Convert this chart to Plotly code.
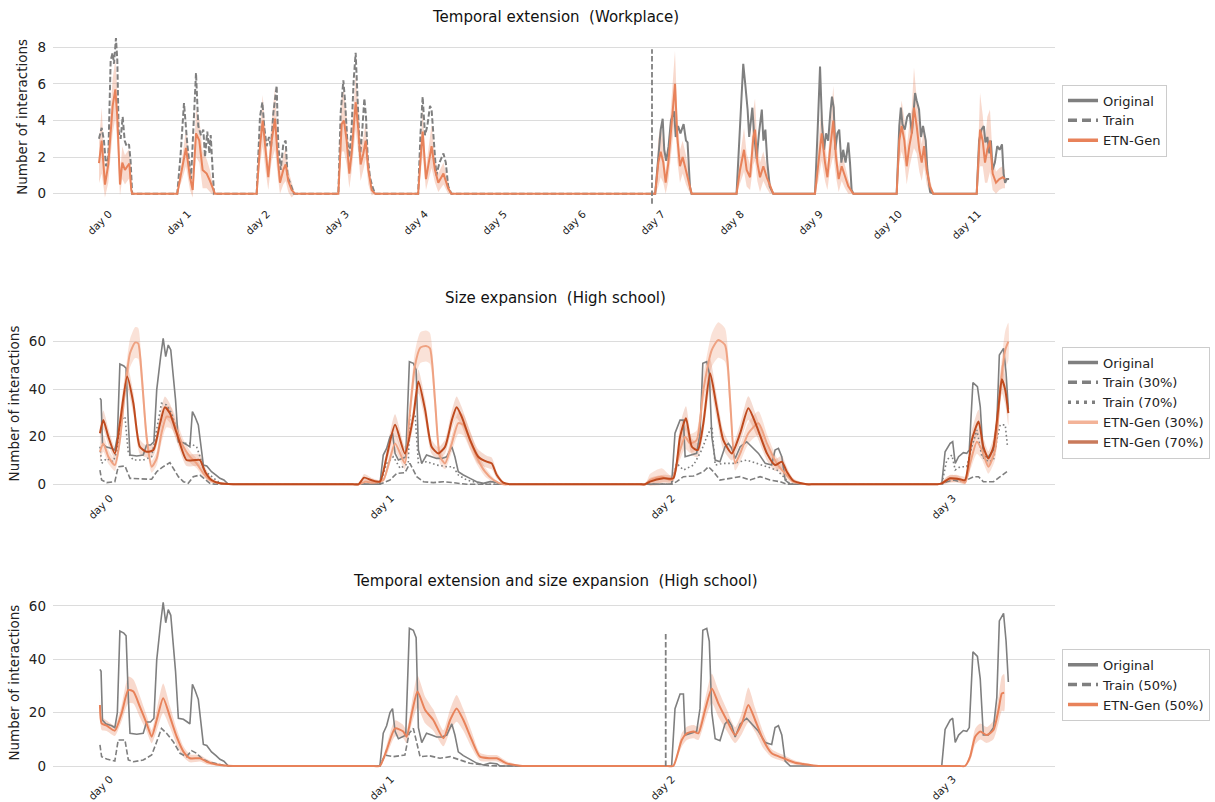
import numpy as np
import plotly.graph_objects as go

# ---------------- Workplace: temporal extension ----------------
wp_tick_days = list(range(12))
wp_tick_labels = [f"day {d}" for d in wp_tick_days]
wp_split_day = 7.0
wp_split_span = [-0.55, 7.9]

wp_train_t = [0.0, 0.034, 0.063, 0.089, 0.118, 0.148, 0.173, 0.19, 0.215, 0.232, 0.249, 0.274, 0.3, 0.325, 0.35, 0.38, 0.4, 0.42,
              0.991, 1.034, 1.076, 1.118, 1.165, 1.194, 1.228, 1.257, 1.291, 1.321, 1.342, 1.371, 1.397, 1.414, 1.439, 1.456,
              1.996, 2.038, 2.068, 2.093, 2.122, 2.152, 2.177, 2.207, 2.249, 2.270, 2.300, 2.333, 2.363, 2.388, 2.418, 2.447, 2.468,
              3.030, 3.059, 3.093, 3.114, 3.143, 3.169, 3.198, 3.224, 3.249, 3.274, 3.304, 3.333, 3.359, 3.380, 3.401, 3.430, 3.460, 3.494,
              4.04, 4.07, 4.097, 4.127, 4.156, 4.19, 4.21, 4.24, 4.27, 4.31, 4.36, 4.39, 4.42, 4.46, 7.0]
wp_train_v = [3.0, 3.6, 2.9, 1.5, 2.0, 7.3, 7.7, 7.1, 8.5, 7.3, 3.4, 3.0, 4.2, 2.9, 2.6, 2.7, 1.8, 0,
              0, 2.2, 4.95, 2.7, 0.8, 3.5, 6.6, 3.7, 3.2, 3.5, 2.0, 3.4, 2.2, 3.2, 1.3, 0,
              0, 4.2, 5.0, 3.6, 2.6, 3.1, 2.5, 4.4, 5.9, 2.6, 1.3, 2.7, 2.9, 0.9, 0.6, 0.2, 0,
              0, 4.4, 6.2, 5.1, 2.9, 2.0, 3.6, 6.2, 7.7, 5.3, 2.0, 3.5, 5.2, 4.2, 2.0, 0.9, 0.4, 0,
              0, 3.3, 5.3, 3.2, 3.7, 4.8, 4.6, 2.8, 1.0, 1.7, 2.2, 1.7, 0.4, 0, 0]

wp_orig_t = [7.0, 7.04, 7.08, 7.11, 7.135, 7.155, 7.18, 7.21, 7.24, 7.26, 7.28, 7.30, 7.33, 7.36, 7.40, 7.43, 7.45, 7.48, 7.50,
             8.07, 8.105, 8.135, 8.155, 8.18, 8.21, 8.23, 8.25, 8.27, 8.295, 8.325, 8.354, 8.39, 8.41, 8.435, 8.46, 8.49, 8.535,
             9.063, 9.097, 9.127, 9.152, 9.177, 9.203, 9.23, 9.257, 9.278, 9.3, 9.32, 9.346, 9.37, 9.397, 9.42, 9.45, 9.485, 9.506, 9.527, 9.55,
             10.097, 10.13, 10.15, 10.17, 10.2, 10.23, 10.26, 10.29, 10.31, 10.33, 10.35, 10.38, 10.405, 10.43, 10.465, 10.485, 10.52, 10.56,
             11.11, 11.14, 11.17, 11.2, 11.22, 11.245, 11.27, 11.29, 11.31, 11.34, 11.37, 11.40, 11.43, 11.45, 11.47, 11.49, 11.52]
wp_orig_v = [0, 0, 2.0, 3.5, 4.1, 2.4, 1.8, 2.6, 4.0, 4.3, 4.5, 3.1, 3.7, 3.3, 3.8, 2.9, 2.8, 0.4, 0,
             0, 3.1, 6.0, 7.1, 6.0, 4.6, 3.1, 4.0, 4.7, 3.1, 1.9, 3.3, 4.6, 2.9, 3.5, 1.7, 0.4, 0,
             0, 3.5, 6.95, 3.8, 2.4, 3.3, 2.9, 4.4, 5.3, 4.7, 2.4, 3.3, 3.5, 1.7, 2.4, 1.7, 2.8, 1.7, 0.2, 0,
             0, 3.7, 4.7, 3.8, 3.5, 4.2, 4.4, 3.3, 4.7, 5.5, 5.1, 4.6, 3.1, 3.7, 2.9, 1.3, 0.1, 0,
             0, 2.9, 3.5, 3.7, 2.8, 3.1, 2.2, 2.9, 1.3, 1.7, 2.6, 2.4, 2.7, 1.1, 0.6, 0.8, 0.8]

wp_gen_t = [0.0, 0.034, 0.076, 0.118, 0.173, 0.207, 0.232, 0.266, 0.295, 0.329, 0.359, 0.384, 0.409, 0.42,
            0.991, 1.047, 1.101, 1.152, 1.186, 1.228, 1.270, 1.312, 1.363, 1.405, 1.447, 1.468,
            1.996, 2.038, 2.072, 2.11, 2.143, 2.186, 2.228, 2.262, 2.291, 2.333, 2.363, 2.396, 2.439, 2.481,
            3.030, 3.072, 3.101, 3.135, 3.169, 3.198, 3.249, 3.283, 3.312, 3.346, 3.376, 3.409, 3.452, 3.494,
            4.04, 4.07, 4.097, 4.139, 4.21, 4.253, 4.295, 4.36, 4.42, 4.46,
            7.04, 7.08, 7.11, 7.143, 7.173, 7.207, 7.249, 7.291, 7.32, 7.354, 7.388, 7.43, 7.472, 7.502,
            8.07, 8.114, 8.165, 8.198, 8.241, 8.283, 8.304, 8.333, 8.367, 8.409, 8.452, 8.494, 8.535,
            9.063, 9.105, 9.148, 9.19, 9.22, 9.253, 9.295, 9.329, 9.363, 9.401, 9.443, 9.485, 9.548,
            10.097, 10.13, 10.16, 10.194, 10.224, 10.257, 10.287, 10.316, 10.35, 10.384, 10.414, 10.443, 10.477, 10.519, 10.561,
            11.11, 11.152, 11.186, 11.215, 11.244, 11.278, 11.312, 11.354, 11.397, 11.439, 11.468]
wp_gen_v = [1.67, 2.9, 0.5, 1.6, 4.8, 5.7, 4.2, 0.5, 1.7, 1.3, 1.5, 1.65, 0.2, 0,
            0, 1.3, 2.5, 0.9, 0.2, 3.3, 2.9, 1.3, 1.1, 0.7, 0.2, 0,
            0, 2.6, 4.0, 2.2, 0.9, 2.9, 4.1, 2.0, 0.6, 1.3, 1.6, 0.7, 0.2, 0,
            0, 3.8, 4.0, 2.9, 1.1, 2.2, 5.0, 3.5, 1.6, 2.2, 2.9, 1.3, 0.2, 0,
            0, 1.9, 3.4, 0.8, 2.6, 1.3, 0.6, 1.1, 0.3, 0,
            0, 1.7, 2.3, 1.7, 0.6, 1.7, 3.8, 6.0, 3.1, 1.5, 2.0, 1.3, 0.6, 0,
            0, 1.3, 2.4, 1.3, 0.9, 3.1, 3.5, 1.7, 0.9, 1.5, 0.9, 0.4, 0,
            0, 1.7, 3.3, 1.7, 0.9, 2.4, 4.0, 2.0, 0.8, 1.5, 0.9, 0.4, 0,
            0, 2.9, 3.7, 2.9, 1.5, 2.6, 3.3, 4.7, 3.7, 2.4, 1.7, 2.6, 1.3, 0.4, 0,
            0, 3.5, 2.9, 1.7, 2.4, 2.9, 1.1, 0.6, 0.8, 0.9, 0.8]
wp_gen_sd = [1.1, 1.8, 0.7, 1.0, 1.5, 1.6, 1.5, 0.6, 0.9, 0.8, 0.8, 0.8, 0.3, 0,
             0, 0.6, 1.0, 0.7, 0.4, 1.3, 1.2, 1.0, 0.8, 0.6, 0.3, 0,
             0, 1.0, 1.4, 1.0, 0.7, 1.1, 1.7, 1.0, 0.6, 0.8, 0.9, 0.6, 0.4, 0,
             0, 1.5, 1.7, 1.3, 0.8, 1.0, 1.5, 1.3, 0.9, 0.9, 1.0, 0.8, 0.3, 0,
             0, 0.9, 1.3, 0.6, 1.2, 0.7, 0.5, 0.6, 0.3, 0,
             0, 1.3, 1.4, 1.1, 0.6, 1.0, 1.5, 1.8, 1.3, 0.9, 0.9, 0.8, 0.5, 0,
             0, 0.7, 1.2, 0.9, 0.7, 1.5, 1.7, 1.0, 0.8, 0.8, 0.6, 0.4, 0,
             0, 1.0, 1.5, 1.0, 0.7, 1.1, 1.9, 1.1, 0.7, 0.8, 0.6, 0.4, 0,
             0, 1.2, 1.4, 1.2, 1.0, 1.2, 1.3, 2.2, 1.5, 1.2, 1.0, 1.1, 0.8, 0.4, 0,
             0, 2.0, 1.4, 1.1, 1.8, 1.7, 0.9, 0.6, 0.6, 0.6, 0.5]

# ---------------- High school ----------------
hs_tick_days = list(range(4))
hs_tick_labels = [f"day {d}" for d in hs_tick_days]
hs_split_day = 2.013
hs_split_span = [0, 50]

hs_orig_t = [0.0, 0.004, 0.009, 0.021, 0.042, 0.053, 0.062, 0.071, 0.085, 0.093, 0.101, 0.107, 0.131, 0.154, 0.166, 0.180, 0.192,
             0.202, 0.216, 0.225, 0.234, 0.243, 0.252, 0.261, 0.269, 0.279, 0.297, 0.311, 0.320, 0.329, 0.338, 0.350, 0.358,
             0.368, 0.380, 0.397, 0.413, 0.427, 0.441, 0.457,
             0.996, 1.008, 1.020, 1.032, 1.041, 1.050, 1.062, 1.088, 1.101, 1.115, 1.125, 1.133, 1.145, 1.162, 1.180, 1.198,
             1.216, 1.234, 1.252, 1.263, 1.275, 1.293, 1.317, 1.340, 1.364, 1.388, 1.412, 1.423,
             2.034, 2.046, 2.064, 2.076, 2.082, 2.100, 2.123, 2.135, 2.145, 2.159, 2.168, 2.177, 2.189, 2.206, 2.224, 2.236,
             2.248, 2.260, 2.278, 2.301, 2.319, 2.343, 2.367, 2.390, 2.402, 2.414, 2.426, 2.438, 2.456,
             2.995, 3.007, 3.025, 3.034, 3.043, 3.055, 3.072, 3.084, 3.093, 3.106, 3.122, 3.132, 3.143, 3.161, 3.179, 3.191,
             3.200, 3.215, 3.224, 3.232]
hs_orig_v = [36.2, 35.5, 17.2, 15.8, 15.1, 14.4, 20.0, 50.6, 49.8, 48.8, 25.7, 12.3, 11.9, 12.3, 16.5, 16.5, 17.9,
             39.7, 53.7, 61.4, 53.7, 58.6, 56.5, 46.7, 35.5, 17.9, 17.5, 16.5, 15.8, 30.6, 28.5, 25.0, 17.9,
             8.1, 7.7, 5.3, 3.9, 2.5, 1.8, 0,
             0, 12.3, 15.1, 20.0, 21.5, 13.0, 10.2, 11.5, 51.6, 50.9, 48.1, 14.4, 8.8, 12.3, 11.6, 10.9,
             10.9, 11.6, 15.8, 11.6, 5.3, 3.9, 2.5, 1.1, 0.4, 1.1, 0.8, 0,
             0, 21.5, 27.0, 27.0, 11.6, 12.3, 13.0, 21.5, 50.9, 51.6, 46.7, 20.0, 10.2, 9.5, 15.8, 17.2,
             15.1, 10.9, 15.8, 17.9, 15.8, 13.0, 8.8, 8.1, 14.4, 15.1, 11.6, 1.8, 0,
             0, 13.7, 17.2, 17.9, 8.8, 11.6, 13.3, 13.0, 14.4, 42.8, 41.1, 32.7, 11.6, 11.6, 14.4, 25.7,
             54.4, 57.2, 46.7, 31.5]

hs_tr30_t = [0.0, 0.006, 0.024, 0.053, 0.065, 0.089, 0.107, 0.142, 0.184, 0.202, 0.225, 0.249, 0.261, 0.279, 0.297, 0.314,
             0.332, 0.356, 0.370, 0.391, 0.409,
             0.996, 1.032, 1.056, 1.085, 1.103, 1.127, 1.151, 1.186, 1.222, 1.257, 1.305,
             2.034, 2.052, 2.076, 2.112, 2.147, 2.165, 2.183, 2.206, 2.242, 2.278, 2.313, 2.349, 2.384, 2.420, 2.444,
             2.995, 3.013, 3.037, 3.060, 3.084, 3.108, 3.126, 3.143, 3.179, 3.203, 3.227]
hs_tr30_v = [6.0, 1.8, 0.7, 1.1, 7.4, 7.7, 2.5, 2.2, 2.1, 5.3, 7.4, 9.1, 6.7, 3.2, 1.1, 0.4,
             3.2, 3.9, 2.5, 0.4, 0,
             0, 1.8, 4.6, 4.9, 8.8, 3.2, 1.1, 0.7, 1.1, 0.7, 0,
             0, 1.1, 3.2, 3.5, 5.3, 7.4, 5.3, 1.8, 2.5, 3.2, 1.8, 3.2, 1.8, 1.1, 0,
             0, 1.1, 1.8, 1.1, 1.8, 3.2, 3.2, 1.1, 1.1, 3.2, 5.3]

hs_tr70_t = [0.0, 0.006, 0.024, 0.047, 0.062, 0.074, 0.089, 0.101, 0.119, 0.154, 0.184, 0.202, 0.219, 0.237, 0.255, 0.273,
             0.291, 0.320, 0.344, 0.356, 0.370, 0.391, 0.421, 0.439,
             0.996, 1.020, 1.044, 1.068, 1.097, 1.103, 1.121, 1.133, 1.162, 1.198, 1.234, 1.257, 1.275, 1.305, 1.352, 1.388,
             2.034, 2.052, 2.076, 2.112, 2.141, 2.159, 2.177, 2.189, 2.218, 2.254, 2.301, 2.337, 2.373, 2.408, 2.432, 2.456,
             2.995, 3.013, 3.031, 3.043, 3.060, 3.084, 3.102, 3.120, 3.138, 3.161, 3.179, 3.191, 3.203, 3.221, 3.229]
hs_tr70_v = [15.8, 8.8, 10.9, 9.5, 14.4, 27.0, 28.5, 13.0, 10.2, 10.2, 11.6, 22.9, 34.1, 33.4, 29.9, 22.9,
             17.2, 17.2, 15.8, 11.6, 6.0, 3.9, 1.1, 0,
             0, 8.8, 11.6, 6.7, 8.8, 30.6, 29.9, 8.8, 9.5, 8.1, 7.4, 7.4, 3.9, 1.8, 0.4, 0,
             0, 8.8, 6.0, 8.1, 14.4, 20.0, 24.3, 8.1, 8.8, 8.8, 10.2, 8.8, 7.4, 6.0, 3.2, 0,
             0, 10.2, 12.3, 6.0, 7.4, 7.4, 15.8, 22.9, 11.6, 9.5, 10.2, 18.6, 25.0, 25.0, 15.8]

hs_g30_t = [0.0, 0.012, 0.030, 0.053, 0.071, 0.089, 0.107, 0.125, 0.136, 0.148, 0.166, 0.184, 0.202, 0.219, 0.237, 0.255,
            0.273, 0.297, 0.320, 0.344, 0.368, 0.391, 0.427, 0.474, 0.50,
            0.90, 0.92, 0.945, 0.973, 1.008, 1.050, 1.085, 1.101, 1.121, 1.140, 1.160, 1.174, 1.192, 1.210, 1.228, 1.252, 1.275,
            1.293, 1.317, 1.340, 1.370, 1.400, 1.435, 1.46,
            1.92, 1.94, 1.957, 1.999, 2.034, 2.064, 2.082, 2.100, 2.123, 2.147, 2.177, 2.200, 2.224, 2.242, 2.260, 2.278, 2.307,
            2.343, 2.373, 2.408, 2.432, 2.467, 2.515, 2.54,
            2.96, 2.98, 2.995, 3.013, 3.049, 3.078, 3.096, 3.120, 3.138, 3.161, 3.185, 3.203, 3.221, 3.232]
hs_g30_v = [13.7, 17.2, 11.6, 8.1, 18.6, 39.7, 55.1, 59.6, 59.3, 46.7, 20.0, 7.4, 10.9, 21.5, 28.5, 27.8,
            22.9, 15.8, 11.6, 8.8, 4.6, 1.8, 0.4, 0, 0,
            0, 0, 1.1, 0.7, 1.8, 17.2, 8.8, 28.0, 50.0, 57.5, 58.2, 57.2, 35.5, 11.6, 8.8, 17.2, 25.7,
            25.0, 18.6, 11.6, 5.3, 1.8, 0, 0,
            0, 0, 1.8, 3.2, 1.8, 14.4, 20.0, 17.2, 18.6, 39.7, 56.5, 60.7, 58.6, 35.5, 8.8, 13.0, 21.5,
            25.7, 17.2, 8.8, 5.3, 1.1, 0, 0,
            0, 0, 0.4, 1.8, 2.5, 0.7, 8.8, 17.9, 14.4, 7.4, 14.4, 39.7, 56.5, 60.0]
hs_g30_sd = [4.0, 3.5, 3.0, 2.5, 3.5, 5.0, 6.0, 6.5, 6.5, 6.0, 4.0, 2.5, 3.0, 4.0, 4.5, 4.5,
             4.0, 3.0, 2.5, 2.0, 1.5, 1.0, 0.3, 0, 0,
             0, 0, 1.0, 0.6, 1.0, 3.5, 2.5, 4.5, 6.0, 6.5, 6.5, 6.5, 5.5, 3.0, 2.5, 3.5, 4.5,
             4.5, 4.0, 3.0, 2.0, 1.0, 0, 0,
             0, 0, 2.5, 3.5, 1.5, 4.0, 5.0, 4.0, 4.0, 6.0, 7.0, 7.5, 7.0, 6.0, 3.0, 3.5, 4.5,
             5.0, 4.0, 2.5, 2.0, 1.0, 0, 0,
             0, 0, 0.5, 1.5, 1.5, 0.8, 3.0, 5.0, 4.0, 3.0, 4.0, 6.0, 8.0, 8.0]

hs_g70_t = [0.0, 0.012, 0.030, 0.053, 0.071, 0.097, 0.119, 0.142, 0.166, 0.190, 0.214, 0.231, 0.249, 0.273, 0.308, 0.338,
            0.356, 0.374, 0.397, 0.427, 0.474, 0.50,
            0.90, 0.92, 0.94, 0.965, 0.996, 1.020, 1.050, 1.085, 1.115, 1.133, 1.157, 1.180, 1.204, 1.228, 1.252, 1.269, 1.287,
            1.317, 1.346, 1.376, 1.394, 1.412, 1.435, 1.459, 1.485,
            1.92, 1.94, 1.957, 2.005, 2.040, 2.064, 2.085, 2.106, 2.127, 2.147, 2.171, 2.194, 2.218, 2.248, 2.278, 2.307, 2.337,
            2.373, 2.402, 2.426, 2.444, 2.467, 2.515, 2.54,
            2.96, 2.98, 2.995, 3.025, 3.060, 3.078, 3.102, 3.126, 3.143, 3.161, 3.179, 3.197, 3.209, 3.221, 3.232]
hs_g70_v = [21.5, 27.0, 20.0, 13.0, 25.7, 45.3, 34.1, 15.8, 13.7, 14.4, 25.7, 32.4, 29.9, 21.5, 10.2, 10.2,
            10.2, 5.3, 1.8, 0.4, 0, 0,
            0, 0, 2.8, 1.8, 1.1, 11.6, 25.0, 13.0, 28.5, 43.2, 31.3, 15.8, 13.0, 15.8, 27.0, 32.4, 28.5,
            18.6, 11.6, 9.5, 8.8, 3.9, 0.7, 0, 0,
            0, 0, 1.1, 2.5, 2.5, 20.0, 27.8, 15.8, 14.4, 25.7, 46.7, 32.7, 18.6, 13.0, 21.5, 32.0, 24.3,
            13.0, 8.1, 9.5, 5.3, 1.5, 0, 0,
            0, 0, 0.4, 2.5, 2.1, 1.8, 18.6, 26.4, 15.8, 10.9, 15.8, 32.7, 44.2, 39.7, 29.9]
hs_g70_sd = [3.5, 4.0, 3.5, 2.5, 4.0, 5.0, 4.5, 3.0, 2.5, 2.5, 4.0, 4.5, 4.0, 3.5, 2.5, 2.5,
             2.5, 2.0, 1.0, 0.3, 0, 0,
             0, 0, 1.5, 1.0, 0.8, 3.0, 4.5, 3.0, 4.0, 5.0, 4.5, 3.0, 2.5, 3.0, 4.0, 4.5, 4.0,
             3.5, 3.0, 2.5, 2.5, 1.5, 0.5, 0, 0,
             0, 0, 1.5, 1.5, 1.5, 5.0, 5.0, 3.5, 3.0, 4.5, 6.0, 5.0, 4.0, 3.0, 4.0, 5.0, 4.0,
             3.0, 2.5, 2.5, 2.0, 1.0, 0, 0,
             0, 0, 0.5, 1.5, 1.5, 1.5, 4.0, 5.0, 4.0, 3.0, 4.0, 5.0, 6.0, 6.0, 5.0]

hs_tr50_t = [0.0, 0.006, 0.024, 0.053, 0.065, 0.089, 0.101, 0.119, 0.154, 0.184, 0.202, 0.219, 0.237, 0.261, 0.285, 0.308,
             0.326, 0.344, 0.362, 0.385, 0.409, 0.439, 0.463,
             0.996, 1.014, 1.044, 1.085, 1.100, 1.115, 1.139, 1.174, 1.210, 1.246, 1.281, 1.317, 1.352, 1.388, 1.423, 2.013]
hs_tr50_v = [7.9, 3.5, 2.6, 1.9, 9.75, 9.75, 2.25, 1.6, 2.25, 4.1, 9.1, 14.1, 12.25, 9.1, 4.75, 3.5,
             5.75, 4.75, 2.9, 1.6, 1.0, 0.25, 0,
             0, 4.1, 3.5, 4.1, 12.25, 14.1, 3.5, 3.8, 2.9, 3.5, 2.25, 1.0, 0.6, 0.1, 0, 0]

hs_g50_t = [0.0, 0.006, 0.024, 0.053, 0.077, 0.101, 0.119, 0.142, 0.166, 0.184, 0.202, 0.225, 0.249, 0.273, 0.297, 0.320,
            0.356, 0.380, 0.415, 0.474, 0.50,
            0.975, 0.996, 1.020, 1.050, 1.079, 1.091, 1.110, 1.130, 1.157, 1.186, 1.222, 1.246, 1.269, 1.293, 1.323, 1.352,
            1.388, 1.412, 1.447, 1.495, 1.52, 1.545,
            2.02, 2.040, 2.070, 2.088, 2.112, 2.129, 2.153, 2.177, 2.200, 2.230, 2.260, 2.284, 2.307, 2.331, 2.360, 2.390,
            2.432, 2.473, 2.527, 2.562, 2.59,
            3.058, 3.078, 3.096, 3.114, 3.132, 3.155, 3.179, 3.197, 3.209, 3.217]
hs_g50_v = [22.9, 16.0, 15.1, 13.25, 19.75, 28.5, 27.9, 22.25, 16.0, 11.0, 17.25, 25.4, 18.5, 11.0, 5.4, 2.9,
            2.9, 1.6, 0.6, 0, 0,
            0, 0, 6.0, 14.1, 12.9, 11.0, 20.0, 27.9, 21.0, 17.25, 10.4, 17.25, 21.6, 17.25, 9.75, 3.5,
            2.9, 2.9, 1.0, 0.1, 0, 0,
            0, 0, 9.75, 12.25, 12.9, 12.25, 21.0, 29.1, 23.5, 17.25, 11.6, 16.0, 22.9, 17.25, 9.75, 4.75,
            2.9, 1.25, 0.4, 0, 0,
            0, 0, 3.5, 11.0, 12.9, 11.6, 13.5, 21.0, 27.25, 27.5]
hs_g50_sd = [4.0, 2.5, 2.0, 2.0, 3.0, 5.0, 4.5, 4.0, 3.0, 2.5, 4.0, 5.5, 4.0, 3.0, 2.0, 1.5,
             1.2, 1.0, 0.5, 0, 0,
             0, 0, 2.0, 3.0, 2.5, 2.5, 4.0, 6.0, 5.0, 4.0, 3.0, 4.0, 5.0, 4.0, 3.0, 1.5,
             1.2, 1.2, 0.8, 0.2, 0, 0,
             0, 0, 2.5, 2.5, 2.5, 2.5, 4.0, 5.5, 5.0, 4.0, 3.0, 4.0, 6.5, 4.5, 3.0, 1.5,
             1.2, 0.8, 0.3, 0, 0,
             0, 0, 1.5, 3.0, 3.0, 3.0, 3.5, 5.0, 6.5, 7.0]

# ---------------- styling ----------------
FONT = "DejaVu Sans"
GRAY = "#7f7f7f"
ORANGE = "#e8825a"
ORANGE_BAND = "rgba(232,130,90,0.30)"
LIGHT = "#efa282"
LIGHT_BAND = "rgba(240,160,125,0.30)"
DARK = "#bf4a1e"
DARK_BAND = "rgba(214,110,70,0.25)"
DASH = "5.5px,2.4px"
DOT = "1.6px,2.6px"

fig = go.Figure()


def add_band(t, v, sd, fillcolor, xa, ya, shape="linear"):
    t = np.asarray(t, float)
    v = np.asarray(v, float)
    sd = np.asarray(sd, float)
    fig.add_trace(go.Scatter(
        x=np.concatenate([t, t[::-1]]),
        y=np.concatenate([v + sd, (v - sd)[::-1]]),
        fill="toself", fillcolor=fillcolor, mode="lines",
        line=dict(width=0, color=fillcolor, shape=shape, smoothing=0.6), showlegend=False,
        hoverinfo="skip", xaxis=xa, yaxis=ya))


def add_line(t, v, color, width, dash, xa, ya, shape="linear"):
    fig.add_trace(go.Scatter(
        x=t, y=v, mode="lines",
        line=dict(color=color, width=width, dash=dash, shape=shape, smoothing=0.6),
        showlegend=False, hoverinfo="skip", xaxis=xa, yaxis=ya))


def add_key(name, color, dash, legend, width=3.5):
    fig.add_trace(go.Scatter(
        x=[None], y=[None], mode="lines", name=name,
        line=dict(color=color, width=width, dash=dash), legend=legend,
        xaxis="x", yaxis="y"))


# panel 1
add_band(wp_gen_t, wp_gen_v, wp_gen_sd, ORANGE_BAND, "x", "y")
add_line(wp_train_t, wp_train_v, GRAY, 2.0, DASH, "x", "y")
add_line(wp_orig_t, wp_orig_v, GRAY, 2.0, None, "x", "y")
add_line(wp_gen_t, wp_gen_v, ORANGE, 2.0, None, "x", "y")

# panel 2
add_band(hs_g30_t, hs_g30_v, hs_g30_sd, LIGHT_BAND, "x2", "y2", "spline")
add_band(hs_g70_t, hs_g70_v, hs_g70_sd, DARK_BAND, "x2", "y2", "spline")
add_line(hs_orig_t, hs_orig_v, GRAY, 1.6, None, "x2", "y2")
add_line(hs_tr30_t, hs_tr30_v, GRAY, 1.6, DASH, "x2", "y2")
add_line(hs_tr70_t, hs_tr70_v, GRAY, 1.6, DOT, "x2", "y2")
add_line(hs_g30_t, hs_g30_v, LIGHT, 2.0, None, "x2", "y2", "spline")
add_line(hs_g70_t, hs_g70_v, DARK, 2.0, None, "x2", "y2", "spline")

# panel 3
add_band(hs_g50_t, hs_g50_v, hs_g50_sd, ORANGE_BAND, "x3", "y3", "spline")
add_line(hs_orig_t, hs_orig_v, GRAY, 1.6, None, "x3", "y3")
add_line(hs_tr50_t, hs_tr50_v, GRAY, 1.6, DASH, "x3", "y3")
add_line(hs_g50_t, hs_g50_v, ORANGE, 2.0, None, "x3", "y3", "spline")

# legend keys
add_key("Original", GRAY, None, "legend")
add_key("Train", GRAY, "9px,5px", "legend")
add_key("ETN-Gen", ORANGE, None, "legend")
add_key("Original", GRAY, None, "legend2")
add_key("Train (30%)", GRAY, "9px,5px", "legend2")
add_key("Train (70%)", GRAY, "3px,5px", "legend2")
add_key("ETN-Gen (30%)", "#f3b398", None, "legend2")
add_key("ETN-Gen (70%)", "#c97a5b", None, "legend2")
add_key("Original", GRAY, None, "legend3")
add_key("Train (50%)", GRAY, "9px,5px", "legend3")
add_key("ETN-Gen (50%)", ORANGE, None, "legend3")

# split markers
fig.add_shape(type="line", xref="x", yref="y", x0=wp_split_day, x1=wp_split_day,
              y0=wp_split_span[0], y1=wp_split_span[1], line=dict(color=GRAY, width=1.8, dash=DASH))
fig.add_shape(type="line", xref="x3", yref="y3", x0=hs_split_day, x1=hs_split_day,
              y0=hs_split_span[0], y1=hs_split_span[1], line=dict(color=GRAY, width=1.8, dash=DASH))

H = 802.0
def dom(top_px, bot_px):
    return [1 - bot_px / H, 1 - top_px / H]

xcommon = dict(showgrid=False, zeroline=False, showline=False, ticks="", tickangle=-45,
               tickfont=dict(family=FONT, size=10.5, color="#222"), automargin=False,
               ticklabelshift=10, ticklabelstandoff=0)
ycommon = dict(showgrid=True, gridcolor="#dcdcdc", gridwidth=1, zeroline=False, showline=False,
               ticks="", tickfont=dict(family=FONT, size=13.5, color="#222"), automargin=False,
               ticklabelstandoff=6,
               title=dict(text="Number of interactions", font=dict(family=FONT, size=13.5, color="#222"),
                          standoff=6))

legcommon = dict(font=dict(family=FONT, size=13, color="#222"), bordercolor="#cccccc", borderwidth=1,
                 bgcolor="white", x=1.007, xanchor="left", yanchor="middle", tracegroupgap=0)

fig.update_layout(
    width=1215, height=802,
    margin=dict(l=53, r=160, t=0, b=0),
    plot_bgcolor="white", paper_bgcolor="white",
    font=dict(family=FONT, color="#222"),
    hovermode=False,
    xaxis=dict(domain=[0, 1], range=[-0.582, 12.101], tickvals=wp_tick_days, ticktext=wp_tick_labels,
               anchor="y", **xcommon),
    yaxis=dict(domain=dom(29.0, 204.7), range=[-0.6, 9.0], tickvals=[0, 2, 4, 6, 8], anchor="x", **ycommon),
    xaxis2=dict(domain=[0, 1], range=[-0.167, 3.398], tickvals=hs_tick_days, ticktext=hs_tick_labels,
                anchor="y2", **xcommon),
    yaxis2=dict(domain=dom(317.9, 489.05), range=[-2, 70], tickvals=[0, 20, 40, 60], anchor="x2", **ycommon),
    xaxis3=dict(domain=[0, 1], range=[-0.167, 3.398], tickvals=hs_tick_days, ticktext=hs_tick_labels,
                anchor="y3", **xcommon),
    yaxis3=dict(domain=dom(595.3, 770.0), range=[-1.5, 64], tickvals=[0, 20, 40, 60], anchor="x3", **ycommon),
    legend=dict(y=1 - 120.5 / H, **legcommon),
    legend2=dict(y=1 - 402.5 / H, **legcommon),
    legend3=dict(y=1 - 684.7 / H, **legcommon),
    annotations=[
        dict(text="Temporal extension  (Workplace)", x=0.501, y=1 - 17 / H, xref="paper", yref="paper",
             showarrow=False, xanchor="center", yanchor="middle", font=dict(family=FONT, size=15, color="#111")),
        dict(text="Size expansion  (High school)", x=0.501, y=1 - 298 / H, xref="paper", yref="paper",
             showarrow=False, xanchor="center", yanchor="middle", font=dict(family=FONT, size=15, color="#111")),
        dict(text="Temporal extension and size expansion  (High school)", x=0.501, y=1 - 580.5 / H,
             xref="paper", yref="paper", showarrow=False, xanchor="center", yanchor="middle",
             font=dict(family=FONT, size=15, color="#111")),
    ],
)

fig.write_html("out.html")
